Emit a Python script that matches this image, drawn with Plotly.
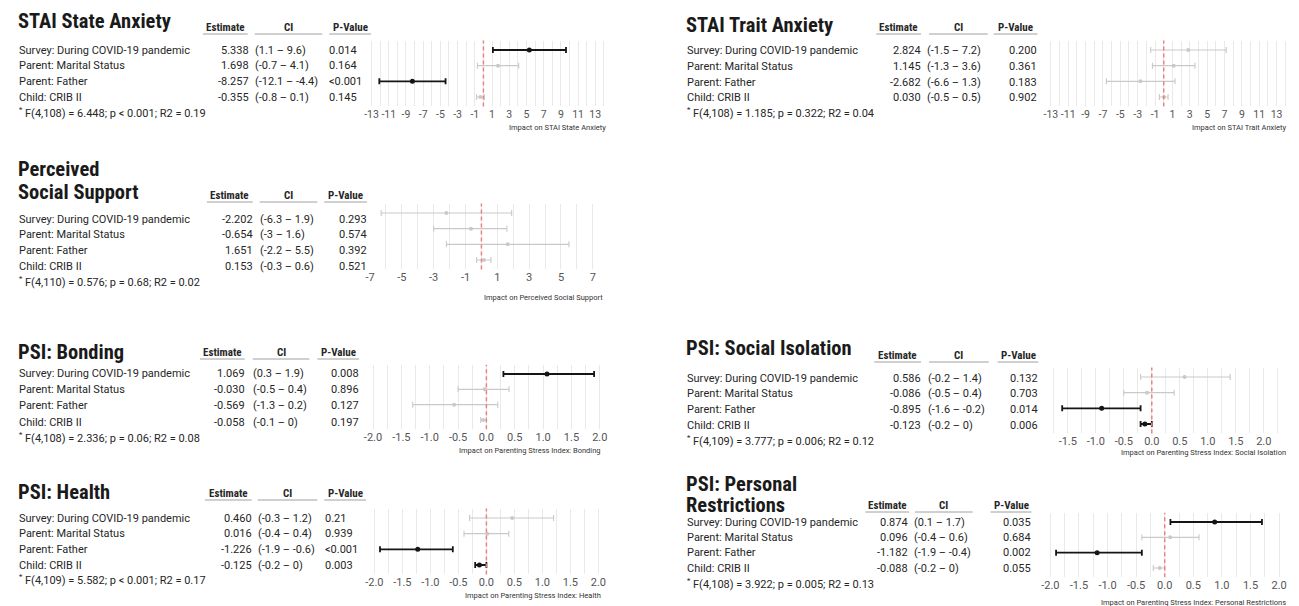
import plotly.graph_objects as go

W, H = 1299, 606

# ---------------- data ----------------
row_labels = ["Survey: During COVID-19 pandemic", "Parent: Marital Status",
              "Parent: Father", "Child: CRIB II"]

state_est = [5.338, 1.698, -8.257, -0.355]
state_lo = [1.1, -0.7, -12.1, -0.8]
state_hi = [9.6, 4.1, -4.4, 0.1]
state_p = ["0.014", "0.164", "<0.001", "0.145"]
state_stat = "F(4,108) = 6.448; p < 0.001; R2 = 0.19"

trait_est = [2.824, 1.145, -2.682, 0.030]
trait_lo = [-1.5, -1.3, -6.6, -0.5]
trait_hi = [7.2, 3.6, 1.3, 0.5]
trait_p = ["0.200", "0.361", "0.183", "0.902"]
trait_stat = "F(4,108) = 1.185; p = 0.322; R2 = 0.04"

pss_est = [-2.202, -0.654, 1.651, 0.153]
pss_lo = [-6.3, -3, -2.2, -0.3]
pss_hi = [1.9, 1.6, 5.5, 0.6]
pss_p = ["0.293", "0.574", "0.392", "0.521"]
pss_stat = "F(4,110) = 0.576; p = 0.68; R2 = 0.02"

bond_est = [1.069, -0.030, -0.569, -0.058]
bond_lo = [0.3, -0.5, -1.3, -0.1]
bond_hi = [1.9, 0.4, 0.2, 0]
bond_p = ["0.008", "0.896", "0.127", "0.197"]
bond_stat = "F(4,108) = 2.336; p = 0.06; R2 = 0.08"

iso_est = [0.586, -0.086, -0.895, -0.123]
iso_lo = [-0.2, -0.5, -1.6, -0.2]
iso_hi = [1.4, 0.4, -0.2, 0]
iso_p = ["0.132", "0.703", "0.014", "0.006"]
iso_stat = "F(4,109) = 3.777; p = 0.006; R2 = 0.12"

health_est = [0.460, 0.016, -1.226, -0.125]
health_lo = [-0.3, -0.4, -1.9, -0.2]
health_hi = [1.2, 0.4, -0.6, 0]
health_p = ["0.21", "0.939", "<0.001", "0.003"]
health_stat = "F(4,109) = 5.582; p < 0.001; R2 = 0.17"

restr_est = [0.874, 0.096, -1.182, -0.088]
restr_lo = [0.1, -0.4, -1.9, -0.2]
restr_hi = [1.7, 0.6, -0.4, 0]
restr_p = ["0.035", "0.684", "0.002", "0.055"]
restr_stat = "F(4,108) = 3.922; p = 0.005; R2 = 0.13"

stai_ticks = [-13, -11, -9, -7, -5, -3, -1, 1, 3, 5, 7, 9, 11, 13]
pss_ticks = [-7, -5, -3, -1, 1, 3, 5, 7]
psi_ticks = [-2.0, -1.5, -1.0, -0.5, 0.0, 0.5, 1.0, 1.5, 2.0]

# ---------------- layout config (pixel positions) ----------------
panels = [
    dict(title=["STAI State Anxiety"], title_y=[21], tx=13, hdr_y=27,
         est_hdr=(198, 243), ci_hdr=(250, 318), p_hdr=(325, 367),
         rows_t=(50, 97), est_r=244, ci_l=250, p_x=325, p_anchor="left", foot_y=112,
         est=state_est, lo=state_lo, hi=state_hi, p=state_p, stat=state_stat,
         L=366, R=603, zero=480, ppu=8.65, plot_rows=(50, 97),
         ticks=stai_ticks, fmt="{:g}", minor=1, tsize=10.5,
         atitle="Impact on STAI State Anxiety", at_x=603, at_y=127),
    dict(title=["STAI Trait Anxiety"], title_y=[25], tx=685, hdr_y=27,
         est_hdr=(875, 920), ci_hdr=(928, 987), p_hdr=(993, 1037),
         rows_t=(51, 98), est_r=920, ci_l=926, p_x=1037, p_anchor="right", foot_y=113,
         est=trait_est, lo=trait_lo, hi=trait_hi, p=trait_p, stat=trait_stat,
         L=1046, R=1288, zero=1164, ppu=8.73, plot_rows=(50, 97),
         ticks=stai_ticks, fmt="{:g}", minor=1, tsize=10.5,
         atitle="Impact on STAI Trait Anxiety", at_x=1288, at_y=127),
    dict(title=["Perceived", "Social Support"], title_y=[169, 192], tx=13, hdr_y=195,
         est_hdr=(202, 248), ci_hdr=(255, 313), p_hdr=(320, 363),
         rows_t=(219, 266), est_r=248, ci_l=255, p_x=363, p_anchor="right", foot_y=281,
         est=pss_est, lo=pss_lo, hi=pss_hi, p=pss_p, stat=pss_stat,
         L=365, R=600, zero=478, ppu=16, plot_rows=(213, 260),
         ticks=pss_ticks, fmt="{:g}", minor=1, tsize=11,
         atitle="Impact on Perceived Social Support", at_x=600, at_y=297),
    dict(title=["PSI: Bonding"], title_y=[352], tx=13, hdr_y=352,
         est_hdr=(195, 240), ci_hdr=(248, 305), p_hdr=(313, 355),
         rows_t=(373, 422), est_r=240, ci_l=248, p_x=355, p_anchor="right", foot_y=437,
         est=bond_est, lo=bond_lo, hi=bond_hi, p=bond_p, stat=bond_stat,
         L=365, R=604, zero=483, ppu=57, plot_rows=(374, 420),
         ticks=psi_ticks, fmt="{:.1f}", minor=0.25, tsize=11,
         atitle="Impact on Parenting Stress Index: Bonding", at_x=598, at_y=450),
    dict(title=["PSI: Social Isolation"], title_y=[348], tx=685, hdr_y=355,
         est_hdr=(873, 920), ci_hdr=(928, 988), p_hdr=(997, 1038),
         rows_t=(378, 425), est_r=920, ci_l=927, p_x=1038, p_anchor="right", foot_y=440,
         est=iso_est, lo=iso_lo, hi=iso_hi, p=iso_p, stat=iso_stat,
         L=1040, R=1287, zero=1152, ppu=56.3, plot_rows=(377, 424),
         ticks=psi_ticks, fmt="{:.1f}", minor=0.25, tsize=11,
         atitle="Impact on Parenting Stress Index: Social Isolation", at_x=1287, at_y=452),
    dict(title=["PSI: Health"], title_y=[492], tx=13, hdr_y=493,
         est_hdr=(200, 247), ci_hdr=(253, 313), p_hdr=(320, 362),
         rows_t=(518, 565), est_r=247, ci_l=253, p_x=321, p_anchor="left", foot_y=579,
         est=health_est, lo=health_lo, hi=health_hi, p=health_p, stat=health_stat,
         L=365, R=603, zero=483, ppu=56.3, plot_rows=(518, 565),
         ticks=psi_ticks, fmt="{:.1f}", minor=0.25, tsize=11,
         atitle="Impact on Parenting Stress Index: Health", at_x=598, at_y=595),
    dict(title=["PSI: Personal", "Restrictions"], title_y=[484, 505], tx=685, hdr_y=505,
         est_hdr=(864, 908), ci_hdr=(914, 972), p_hdr=(990, 1031),
         rows_t=(522, 568), est_r=907, ci_l=913, p_x=1031, p_anchor="right", foot_y=583,
         est=restr_est, lo=restr_lo, hi=restr_hi, p=restr_p, stat=restr_stat,
         L=1046, R=1289, zero=1165, ppu=57.5, plot_rows=(522, 568),
         ticks=psi_ticks, fmt="{:.1f}", minor=0.25, tsize=11,
         atitle="Impact on Parenting Stress Index: Personal Restrictions", at_x=1287, at_y=602),
]

FONT = "Roboto"
TITLE_FONT = "Roboto Condensed, Liberation Sans Narrow, Roboto"
TXT = "#262626"
GRID = "#e9e9e9"
BLACK = "#151515"
GREY = "#c9c9c9"
RED = "#ef8080"


def xp(x):
    return x / W


def yp(y):
    return 1 - y / H


annotations = []
shapes = []


def ann(x, y, text, size=11, anchor="left", color=TXT, family=FONT):
    annotations.append(dict(x=xp(x), y=yp(y), xref="paper", yref="paper", text=text,
                            showarrow=False, xanchor=anchor, yanchor="middle",
                            font=dict(size=size, color=color, family=family),
                            borderpad=0, borderwidth=0))


def hline(x0, x1, y, color="#a0a0a0", width=1):
    shapes.append(dict(type="line", xref="paper", yref="paper", x0=xp(x0), x1=xp(x1),
                       y0=yp(y), y1=yp(y), line=dict(color=color, width=width)))


def is_sig(p):
    return p.startswith("<") or float(p) < 0.05


fig = go.Figure()
PAD = 0.6

for i, P in enumerate(panels, start=1):
    ax = "" if i == 1 else str(i)
    # ---- table ----
    for t, ty in zip(P["title"], P["title_y"]):
        ann(P["tx"] - 1, ty, f"<b>{t}</b>", size=20.5, family=TITLE_FONT, color="#1a1a1a")
    hy = P["hdr_y"]
    for (a, b), lab in [(P["est_hdr"], "Estimate"), (P["ci_hdr"], "CI"), (P["p_hdr"], "P-Value")]:
        ann((a + b) / 2, hy, f"<b>{lab}</b>", size=11, anchor="center", family=TITLE_FONT)
        hline(a, b, hy + 7)
    r1, r4 = P["rows_t"]
    step = (r4 - r1) / 3
    for k in range(4):
        ry = r1 + k * step
        ann(P["tx"], ry, row_labels[k], size=11)
        ann(P["est_r"], ry, f"{P['est'][k]:.3f}", size=11, anchor="right")
        ann(P["ci_l"], ry, f"({P['lo'][k]:g} \u2013 {P['hi'][k]:g})", size=11)
        ann(P["p_x"], ry, P["p"][k], size=11, anchor=P["p_anchor"])
    ann(P["tx"], P["foot_y"], "<sup>*</sup> " + P["stat"], size=11)
    ann(P["at_x"], P["at_y"], P["atitle"], size=7.5, anchor="right", color="#333333")

    # ---- forest plot ----
    pr1, pr4 = P["plot_rows"]
    d = (pr4 - pr1) / 3
    top = pr1 - PAD * d
    bottom = pr4 + PAD * d
    L, R, z, ppu = P["L"], P["R"], P["zero"], P["ppu"]
    fig.update_layout({
        f"xaxis{ax}": dict(domain=[xp(L), xp(R)], range=[(L - z) / ppu, (R - z) / ppu],
                           anchor=f"y{ax}", tickmode="array", tickvals=P["ticks"],
                           ticktext=[P["fmt"].format(v) for v in P["ticks"]], tickangle=0,
                           showgrid=True, gridcolor=GRID, gridwidth=1,
                           minor=dict(tickmode="linear", tick0=0, dtick=P["minor"], showgrid=True,
                                      gridcolor=GRID, gridwidth=1),
                           zeroline=False, showline=False, ticks="",
                           tickfont=dict(size=P["tsize"], color="#555555", family=FONT),
                           fixedrange=True),
        f"yaxis{ax}": dict(domain=[yp(bottom), yp(top)], anchor=f"x{ax}", type="category",
                           categoryorder="array", categoryarray=row_labels,
                           range=[3 + PAD, -PAD], showticklabels=False, showgrid=False,
                           zeroline=False, showline=False, fixedrange=True),
    })
    shapes.append(dict(type="line", xref=f"x{ax}", yref=f"y{ax} domain", x0=0, x1=0, y0=0, y1=1,
                       line=dict(color=RED, width=1.5, dash="4px,3px"), layer="above"))
    for sig, color, thick, ms in [(False, GREY, 1.1, 4), (True, BLACK, 1.8, 5)]:
        idx = [k for k in range(4) if is_sig(P["p"][k]) == sig]
        if not idx:
            continue
        fig.add_trace(go.Scatter(
            x=[P["est"][k] for k in idx], y=[row_labels[k] for k in idx],
            mode="markers", marker=dict(color=color, size=ms),
            error_x=dict(type="data", symmetric=False,
                         array=[P["hi"][k] - P["est"][k] for k in idx],
                         arrayminus=[P["est"][k] - P["lo"][k] for k in idx],
                         color=color, thickness=thick, width=3),
            xaxis=f"x{ax}", yaxis=f"y{ax}", showlegend=False, hoverinfo="skip"))

fig.update_layout(width=W, height=H, margin=dict(l=0, r=0, t=0, b=0, pad=0),
                  paper_bgcolor="white", plot_bgcolor="white",
                  annotations=annotations, shapes=shapes, showlegend=False)

fig.write_html("out.html", config={"displayModeBar": False, "staticPlot": True},
               post_script="document.body.style.margin='0px';document.body.style.overflow='hidden';")
